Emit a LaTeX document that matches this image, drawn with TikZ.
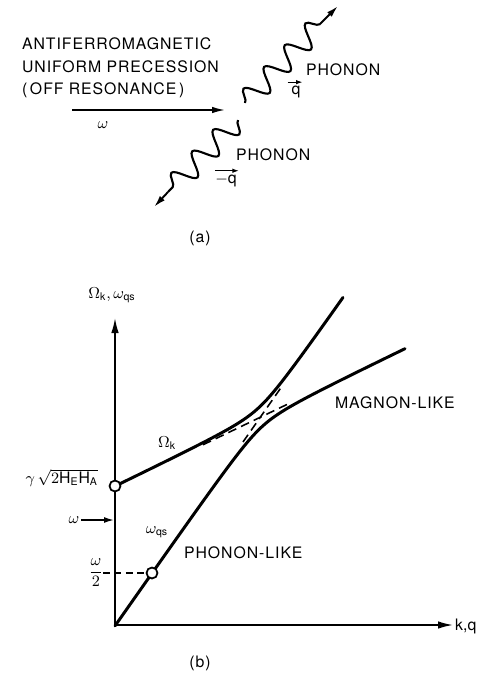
\documentclass[tikz,border=0pt]{standalone}
\usepackage{amsmath}
\usepackage{fontspec}
\setsansfont{TeX Gyre Heros}[LetterSpace=6]
\usetikzlibrary{arrows.meta,decorations.pathmorphing}
\tikzset{
  axis/.style={-{Latex[length=3mm,width=1.5mm]}, line width=0.9pt},
  tip/.style={-{Latex[length=2.4mm,width=1.3mm]}, line width=1.1pt},
  vec/.style={-{Latex[length=1.3mm,width=0.9mm]}, line width=0.6pt},
  branch/.style={line width=1.7pt, line cap=round},
  asym/.style={line width=0.9pt, dash pattern=on 5pt off 3pt},
  wave/.style={line width=1.2pt, decorate, decoration={snake, amplitude=2.2mm, segment length=6mm}},
  lbl/.style={font=\sffamily\fontsize{9}{11}\selectfont, inner sep=1pt},
  hollow/.style={circle, draw, fill=white, line width=1pt, inner sep=0pt, minimum size=2.2mm},
}
\begin{document}
\begin{tikzpicture}[x=0.02cm, y=-0.02cm,
  declare function={fm(\u)=138+0.48*\u; fp(\u)=1.43*\u;}]
  \useasboundingbox (0,0) rectangle (477,677);
  % (a) incoming uniform mode
  \node[lbl, anchor=west] (t1) at (20,44) {ANTIFERROMAGNETIC};
  \node[lbl, anchor=west] (t2) at (20,67) {UNIFORM PRECESSION};
  \node[lbl, anchor=west] (t3) at (20,90) {(\,OFF RESONANCE\,)};
  \coordinate (w0) at (72,110);
  \coordinate (w1) at (225,110);
  \draw[-{Latex[length=2.6mm,width=1.3mm]}, line width=0.9pt] (w0) -- (w1);
  \node[lbl] (wa) at (103,125) {$\omega$};
  % (a) outgoing phonons
  \coordinate (u0) at (245,103);
  \coordinate (u1) at (320,24);
  \coordinate (u2) at (338,6);
  \draw[wave] (u0) -- (u1);
  \draw[tip] (u1) -- (u2);
  \coordinate (l0) at (238,120);
  \coordinate (l1) at (168,192);
  \coordinate (l2) at (154,207);
  \draw[wave] (l0) -- (l1);
  \draw[tip] (l1) -- (l2);
  \node[lbl, anchor=west] (p1) at (304,70) {PHONON};
  \node[lbl, inner sep=0pt] (q1) at (296,92) {q};
  \draw[vec] ([xshift=-2pt, yshift=2pt]q1.north west) -- ([xshift=1pt, yshift=2pt]q1.north east);
  \node[lbl, anchor=west] (p2) at (234,155) {PHONON};
  \node[lbl, inner sep=0pt] (q2) at (226,181) {$-$q};
  \draw[vec] ([yshift=2pt]q2.north west) -- ([xshift=1pt, yshift=2pt]q2.north east);
  \node[lbl] (ca) at (200,238) {(a)};
  % (b) axes
  \coordinate (O) at (115,625);
  \draw[axis] (O) -- (115,318);
  \draw[axis] (O) -- (453,625);
  \node[lbl] (ya) at (112,295) {$\Omega_{\mathsf{k}},\omega_{\mathsf{qs}}$};
  \node[lbl, anchor=west, inner sep=0.5pt] (xa) at (454,626) {\addfontfeatures{LetterSpace=0}k,q};
  \node[lbl, anchor=east] (g0) at (100,478) {$\gamma\,\sqrt{2\mathsf{H_EH_A}}$};
  \node[lbl] (wb) at (74,520) {$\omega$};
  \draw[-{Latex[length=2mm,width=1.2mm]}, line width=0.9pt] (wb.east) -- (114,520);
  \node[lbl] (w2) at (96,573) {$\dfrac{\omega}{2}$};
  % (b) unperturbed branches near the crossing
  \draw[asym] ({115+88},{625-fm(88)}) -- ({115+175},{625-fm(175)});
  \draw[asym] ({115+128},{625-fp(128)}) -- ({115+167},{625-fp(167)});
  % (b) coupled branches
  \draw[branch] plot[domain=0:228, samples=90, smooth]
    ({115+\x},{625-(fm(\x)+fp(\x))/2-sqrt(((fp(\x)-fm(\x))/2)^2+121)});
  \draw[branch] plot[domain=0:290, samples=110, smooth]
    ({115+\x},{625-(fm(\x)+fp(\x))/2+sqrt(((fp(\x)-fm(\x))/2)^2+121)});
  \node[hollow] (gap) at (115,486) {};
  \node[hollow] (half) at (152,573) {};
  \draw[line width=0.9pt, dash pattern=on 4pt off 2.5pt] (103,573) -- (half.west);
  \node[lbl] (Ok) at (167,443) {$\Omega_{\mathsf{k}}$};
  \node[lbl] (oq) at (157,532) {$\omega_{\mathsf{qs}}$};
  \node[lbl, anchor=west] (ml) at (333,403) {MAGNON-LIKE};
  \node[lbl, anchor=west] (pl) at (182,553) {PHONON-LIKE};
  \node[lbl] (cb) at (200,663) {(b)};
\end{tikzpicture}
\end{document}
